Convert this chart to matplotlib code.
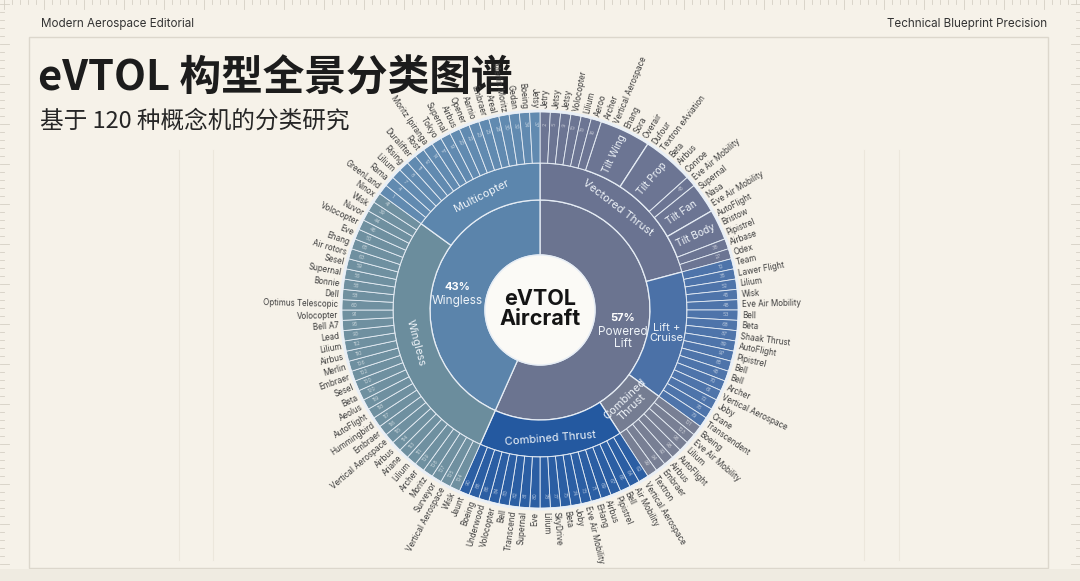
import numpy as np
import matplotlib
matplotlib.use("Agg")
import matplotlib.pyplot as plt
from matplotlib.patches import Wedge, Circle, Rectangle

W, H = 1080, 581

# ---- data: hierarchy (clockwise from 12 o'clock) ----
l1_labels = ["57%", "43%"]
l1_names = ["Powered\nLift", "Wingless"]
l1_counts = [68, 52]

l2_labels = ["Vectored Thrust", "Lift +\nCruise", "Combined\nThrust", "Combined Thrust", "Wingless", "Multicopter"]
l2_counts = [25, 17, 7, 19, 34, 18]

# third ring inside Vectored Thrust: grouped tilt families and single aircraft
vt_seg_labels = [None, "Tilt Wing", "Tilt Prop", None, "Tilt Fan", "Tilt Body", None]
vt_seg_counts = [6, 5, 5, 1, 3, 3, 2]

vt_names = ["Jetry", "Jetsy", "Jetsy", "Volocopter", "Lilium", "Aeroo", "Archer",
            "Vertical Aerospace", "Ehang", "Sora", "Overair", "Dufour", "Textron eAviation",
            "Beta", "Airbus", "Conroe", "Eve Air Mobility", "Supernal", "Nasa",
            "Eve Air Mobility", "AutoFlight", "Bristow", "Pipistrel", "Airbase", "Odex"]
lc_names = ["Team", "Lawer Flight", "Lilium", "Wisk", "Eve Air Mobility", "Bell", "Beta",
            "Shaak Thrust", "AutoFlight", "Pipistrel", "Bell", "Bell", "Archer",
            "Vertical Aerospace", "Joby", "Crane", "Transcendent"]
gc_names = ["Boeing", "Eve Air Mobility", "Lilium", "AutoFlight", "Airbus", "Embraer", "Textron"]
db_names = ["Vertical Aerospace", "Air Mobility", "Bell", "Pipistrel", "Airbus", "EHang",
            "Eve Air Mobility", "Joby", "Beta", "SkyDrive", "Lilium", "Eve", "Supernal",
            "Transcend", "Bell", "Volocopter", "Underwood", "Boeing", "Jaunt"]
ws_names = ["Wisk", "Vertical Aerospace", "Surveyor", "Moritz", "Archer", "Lilium", "Ariane",
            "Airbus", "Vertical Aerospace", "Embraer", "Hummingbird", "AutoFlight", "Aeolus",
            "Beta", "Sesel", "Embraer", "Merlin", "Airbus", "Lilium", "Lead", "Bell A7",
            "Volocopter", "Optimus Telescopic", "Dell", "Bonnie", "Supernal", "Sesel",
            "Air rotors", "Ehang", "Eve", "Volocopter", "Nuvor", "Wisk", "Ninox"]
mc_names = ["GreenLand", "Rama", "Lilium", "Rising", "Duralifter", "Rost", "Moritz Ipiranga",
            "Tokyo", "Supernal", "Airbus", "Opener", "Aarnio", "Embraer", "Areal",
            "Merlin Moritz", "Gedan", "Boeing", "Jetsy"]

vt_ids = [2, 5, 9, 10, 13, 16, 18, 21, 24, 26, 29, 31, 33, 36, 40, 42, 45, 43, 47, 49, 51, 54, 57, 38, 27]
lc_ids = [10, 35, 52, 45, 48, 53, 68, 87, 89, 97, 85, 45, 70, 61, 72, 76, 79]
gc_ids = [101, 103, 96, 98, 92, 94, 99]
db_ids = [62, 64, 66, 67, 69, 71, 73, 74, 75, 77, 78, 80, 81, 82, 83, 84, 86, 88, 90]
ws_ids = [104, 105, 107, 108, 109, 111, 113, 114, 115, 116, 117, 118, 119, 120, 100, 102, 106,
          110, 112, 93, 95, 91, 60, 58, 56, 55, 59, 63, 65, 50, 46, 44, 39, 41]
mc_ids = [1, 4, 7, 8, 11, 12, 14, 17, 19, 20, 22, 23, 25, 28, 30, 32, 34, 37]

names = vt_names + lc_names + gc_names + db_names + ws_names + mc_names
ids = vt_ids + lc_ids + gc_ids + db_ids + ws_ids + mc_ids

l1_colors = ["#6b7490", "#5b84ab"]
l2_colors = ["#6a7391", "#4b71a7", "#757d92", "#2459a0", "#6b8d9d", "#5c86ad"]
leaf_colors = ["#6c7593", "#4e74aa", "#787f94", "#2b5ea3", "#6f90a0", "#618ab0"]

# ---- geometry ----
CX, CY = 540, H - 310
R0, R1, R2, R3 = 55, 110, 147, 198
N = sum(l1_counts)
STEP = 360 / N
EDGE = "#e6edf5"


def pos(r, deg):
    a = np.radians(deg)
    return CX + r * np.cos(a), CY + r * np.sin(a)


def ang(i):
    # angle (deg, ccw) at slot position i counted clockwise from top
    return 90 - i * STEP


def norm(d):
    d = (d + 180) % 360 - 180
    return d


def radial(d):
    d = norm(d)
    if -90 <= d <= 90:
        return d, "left"
    return d - 180 if d > 0 else d + 180, "right"


def tangent(d):
    d = norm(d)
    return d - 90 if d > 0 else d + 90


fig = plt.figure(figsize=(W / 100, H / 100), dpi=100)
bg = "#f6f2e9"
fig.patch.set_facecolor(bg)
ax = fig.add_axes([0, 0, 1, 1])
ax.set_xlim(0, W)
ax.set_ylim(0, H)
ax.axis("off")
ax.set_facecolor(bg)

# ---- page decorations ----
tick_c = "#d5d0c5"
for x in range(4, W, 8):
    ax.plot([x, x], [H, H - (9 if x % 40 == 4 else 4)], color=tick_c, lw=0.6)
for y in range(4, H - 14, 8):
    L = 9 if y % 40 == 4 else 4
    ax.plot([0, L], [H - y, H - y], color=tick_c, lw=0.6)
    ax.plot([W, W - L], [H - y, H - y], color=tick_c, lw=0.6)
ax.add_patch(Rectangle((29, H - 568), 1019, 531, fill=False, ec="#dcd7cc", lw=1.0))
ax.add_patch(Rectangle((0, 0), W, H - 568 - 1, fc="#efebe1", ec="none"))
for x in [179, 213, 864, 899]:
    ax.plot([x, x], [H - 560, H - 150], color="#ece7dc", lw=0.8)

ax.text(41, H - 24, "Modern Aerospace Editorial", fontsize=8.4, color="#333333",
        family=["Inter", "DejaVu Sans"], va="center")
ax.text(1047, H - 24, "Technical Blueprint Precision", fontsize=8.4, color="#333333",
        family=["Inter", "DejaVu Sans"], va="center", ha="right")
ax.text(38, H - 78, "eVTOL 构型全景分类图谱", fontsize=30, weight="bold", color="#1c1c1c",
        family=["Noto Sans CJK SC", "DejaVu Sans"], va="center")
ax.text(40, H - 121, "基于 120 种概念机的分类研究", fontsize=17, color="#262626",
        family=["Noto Sans CJK SC", "DejaVu Sans"], va="center")

font = ["Inter", "DejaVu Sans"]

# ---- ring 1 ----
start = 0
for lab, nm, cnt, col in zip(l1_labels, l1_names, l1_counts, l1_colors):
    t2, t1 = ang(start), ang(start + cnt)
    ax.add_patch(Wedge((CX, CY), R1, t1, t2, width=R1 - R0, fc=col, ec=EDGE, lw=0.9))
    mid = (t1 + t2) / 2
    x, y = pos((R0 + R1) / 2 + 2, mid)
    lines = nm.count("\n") + 1
    ax.text(x, y + 5 * lines, lab, fontsize=8, weight="bold", color="white", ha="center",
            va="center", family=font)
    ax.text(x, y + 5 * lines - 8, nm, fontsize=8.5, color="#eef3f8", ha="center", va="top",
            family=font, linespacing=1.1)
    start += cnt

# ---- ring 2 ----
start = 0
l2_start = []
for k, (lab, cnt, col) in enumerate(zip(l2_labels, l2_counts, l2_colors)):
    l2_start.append(start)
    t2, t1 = ang(start), ang(start + cnt)
    ax.add_patch(Wedge((CX, CY), R2, t1, t2, width=R2 - R1, fc=col, ec=EDGE, lw=0.9))
    mid = (t1 + t2) / 2
    x, y = pos((R1 + R2) / 2, mid)
    rot = 0 if lab.startswith("Lift") else tangent(mid)
    ax.text(x, y, lab, fontsize=8, color="#eef3f8", ha="center", va="center",
            rotation=rot, rotation_mode="anchor", family=font, linespacing=1.0)
    start += cnt

# ---- ring 3: leaves ----
grouped = set()
s = 0
for lab, cnt in zip(vt_seg_labels, vt_seg_counts):
    if lab is not None:
        t2, t1 = ang(s), ang(s + cnt)
        ax.add_patch(Wedge((CX, CY), R3, t1, t2, width=R3 - R2, fc=leaf_colors[0], ec=EDGE, lw=0.9))
        mid = (t1 + t2) / 2
        x, y = pos((R2 + R3) / 2, mid)
        ax.text(x, y, lab, fontsize=7.3, color="#eef3f8", ha="center", va="center",
                rotation=norm(mid), rotation_mode="anchor", family=font)
        grouped.update(range(s, s + cnt))
    s += cnt

k = 0
for i in range(N):
    while k + 1 < len(l2_start) and i >= l2_start[k + 1]:
        k += 1
    t2, t1 = ang(i), ang(i + 1)
    mid = (t1 + t2) / 2
    if i not in grouped:
        ax.add_patch(Wedge((CX, CY), R3, t1, t2, width=R3 - R2, fc=leaf_colors[k], ec=EDGE, lw=0.6))
        rot, ha = radial(mid)
        x, y = pos(R3 - 12, mid)
        ax.text(x, y, str(ids[i]), fontsize=3.8, color="white", alpha=0.6, ha="center",
                va="center", rotation=rot, rotation_mode="anchor", family=font)
    rot, ha = radial(mid)
    x, y = pos(R3 + 4, mid)
    ax.text(x, y, names[i], fontsize=5.8, color="#3d3d3d", ha=ha, va="center",
            rotation=rot, rotation_mode="anchor", family=font)

# outer rim and centre
ax.add_patch(Circle((CX, CY), R3 + 1.2, fill=False, ec="#e9eff6", lw=1.8))
ax.add_patch(Circle((CX, CY), R0, fc="#fbfaf6", ec=EDGE, lw=1.0))
ax.text(CX, CY + 1, "eVTOL\nAircraft", fontsize=15.5, weight="bold", color="#141414",
        ha="center", va="center", family=font, linespacing=1.0)

fig.savefig("out.png", dpi=100, facecolor=bg)
